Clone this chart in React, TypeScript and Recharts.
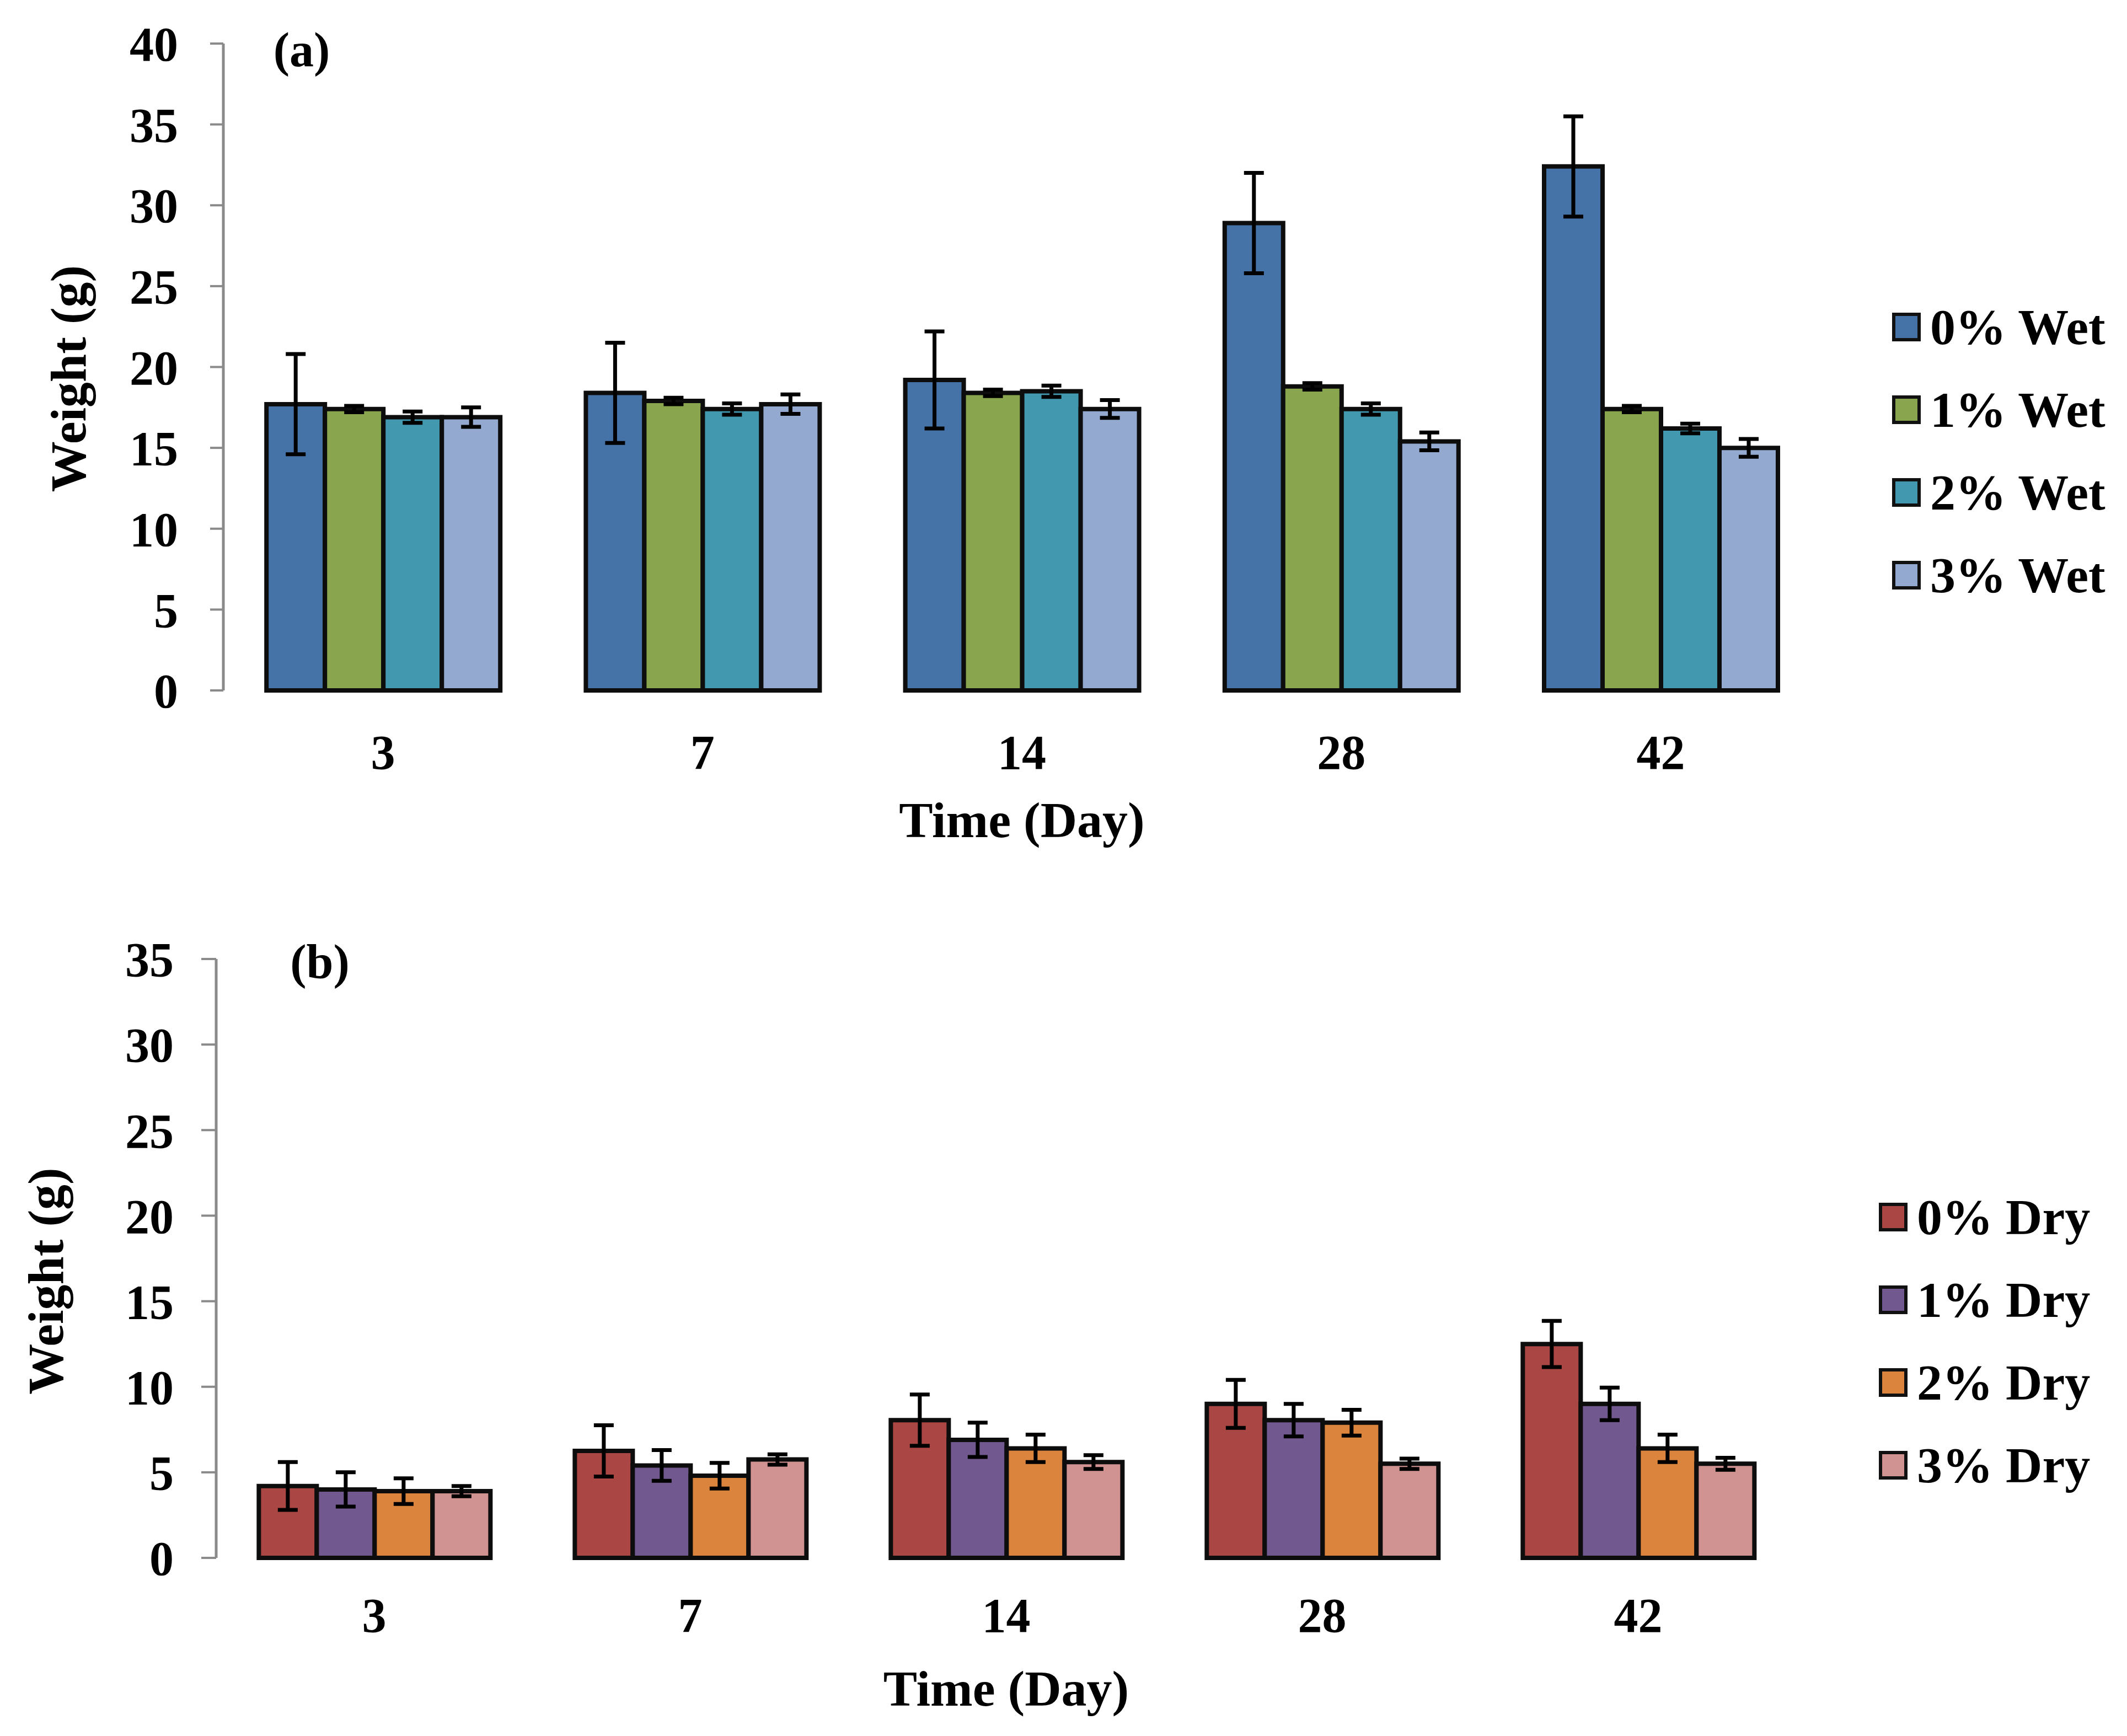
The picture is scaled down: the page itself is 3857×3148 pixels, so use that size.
import { BarChart, Bar, XAxis, YAxis, ErrorBar, Legend } from 'recharts';

const days = ['3', '7', '14', '28', '42'];

// (a) wet weight, g
const wet0 = [17.7, 18.4, 19.2, 28.9, 32.4];
const wet1 = [17.4, 17.9, 18.4, 18.8, 17.4];
const wet2 = [16.9, 17.4, 18.5, 17.4, 16.2];
const wet3 = [16.9, 17.7, 17.4, 15.4, 15.0];
const wetErr0 = [3.1, 3.1, 3.0, 3.1, 3.1];
const wetErr1 = [0.2, 0.2, 0.2, 0.2, 0.2];
const wetErr2 = [0.35, 0.35, 0.35, 0.35, 0.3];
const wetErr3 = [0.6, 0.6, 0.55, 0.55, 0.55];

// (b) dry weight, g
const dry0 = [4.2, 6.25, 8.05, 9.0, 12.5];
const dry1 = [4.0, 5.4, 6.9, 8.05, 9.0];
const dry2 = [3.9, 4.8, 6.4, 7.9, 6.4];
const dry3 = [3.9, 5.75, 5.6, 5.5, 5.5];
const dryErr0 = [1.4, 1.5, 1.5, 1.4, 1.35];
const dryErr1 = [1.0, 0.9, 1.0, 0.95, 0.95];
const dryErr2 = [0.75, 0.75, 0.8, 0.75, 0.8];
const dryErr3 = [0.3, 0.3, 0.4, 0.3, 0.35];

const wetNames = ['0% Wet', '1% Wet', '2% Wet', '3% Wet'];
const dryNames = ['0% Dry', '1% Dry', '2% Dry', '3% Dry'];
const wetColors = ['#4572A7', '#89A54E', '#4198AF', '#93A9CF'];
const dryColors = ['#AA4643', '#71588F', '#DB843D', '#D19392'];

const wetTicks = [0, 5, 10, 15, 20, 25, 30, 35, 40];
const dryTicks = [0, 5, 10, 15, 20, 25, 30, 35];
const edgeTicks = [0, 1, 2, 3, 4, 5];

const FONT = '"Liberation Serif", "Times New Roman", serif';
const GREY = '#8a8a8a';

function buildRows(series: number[][], errs: number[][]) {
  return days.map((day, i) => {
    const row: Record<string, string | number> = { day };
    series.forEach((s, k) => {
      row['v' + k] = s[i];
      row['e' + k] = errs[k][i];
    });
    return row;
  });
}

const wetRows = buildRows([wet0, wet1, wet2, wet3], [wetErr0, wetErr1, wetErr2, wetErr3]);
const dryRows = buildRows([dry0, dry1, dry2, dry3], [dryErr0, dryErr1, dryErr2, dryErr3]);

const yTitle = (cxOff: number, shift: number) => (props: any) => {
  const vb = props.viewBox;
  const cx = vb.x + cxOff;
  const cy = vb.y + vb.height / 2 + shift;
  return (
    <text
      x={cx}
      y={cy}
      transform={`rotate(-90 ${cx} ${cy})`}
      textAnchor="middle"
      dominantBaseline="central"
      fontFamily={FONT}
      fontWeight="bold"
      fontSize={92}
      fill="#000"
    >
      Weight (g)
    </text>
  );
};

const LegendBox = (props: any) => (
  <div style={{ fontFamily: FONT, fontWeight: 'bold', fontSize: 92, color: '#000' }}>
    {(props.payload || []).map((item: any) => (
      <div key={item.value} style={{ height: 150, display: 'flex', alignItems: 'center', whiteSpace: 'nowrap' }}>
        <span
          style={{
            width: 52,
            height: 52,
            boxSizing: 'border-box',
            border: '6px solid #111',
            background: item.color,
            marginRight: 17,
            display: 'inline-block',
          }}
        />
        <span>{item.value}</span>
      </div>
    ))}
  </div>
);

type PanelProps = {
  rows: Record<string, string | number>[];
  names: string[];
  colors: string[];
  yTicks: number[];
  height: number;
  margin: { top: number; right: number; bottom: number; left: number };
  yAxisWidth: number;
  yTickSize: number;
  yTickMargin: number;
  xTickSize: number;
  xTickMargin: number;
  xAxisHeight: number;
  yTitleX: number;
  yTitleShift: number;
  legendLeft: number;
  legendTop: number;
};

const tickStyle = { fontFamily: FONT, fontWeight: 'bold' as const, fontSize: 88, fill: '#000' };

function Panel(p: PanelProps) {
  const yMax = p.yTicks[p.yTicks.length - 1];
  return (
    <BarChart
      width={3857}
      height={p.height}
      data={p.rows}
      margin={p.margin}
      barCategoryGap="13.5%"
      barGap={0}
    >
      <XAxis
        xAxisId="edge"
        type="number"
        domain={[0, 5]}
        ticks={edgeTicks}
        allowDataOverflow
        height={0}
        tick={false}
        tickSize={p.xTickSize}
        axisLine={{ stroke: GREY, strokeWidth: 5 }}
        tickLine={{ stroke: GREY, strokeWidth: 4 }}
      />
      <XAxis
        xAxisId="cat"
        dataKey="day"
        height={p.xAxisHeight}
        axisLine={false}
        tickLine={false}
        tickSize={p.xTickSize}
        tickMargin={p.xTickMargin}
        tick={tickStyle}
        label={{
          value: 'Time (Day)',
          position: 'insideBottom',
          offset: 0,
          fill: '#000',
          style: { fontFamily: FONT, fontWeight: 'bold', fontSize: 92, fill: '#000' },
        }}
      />
      <YAxis
        width={p.yAxisWidth}
        domain={[0, yMax]}
        ticks={p.yTicks}
        interval={0}
        tick={tickStyle}
        tickSize={p.yTickSize}
        tickMargin={p.yTickMargin}
        axisLine={{ stroke: GREY, strokeWidth: 5 }}
        tickLine={{ stroke: GREY, strokeWidth: 4 }}
        label={{ content: yTitle(p.yTitleX, p.yTitleShift) }}
      />
      <Legend
        layout="vertical"
        align="center"
        verticalAlign="middle"
        content={<LegendBox />}
        wrapperStyle={{ left: p.legendLeft, top: p.legendTop, width: 480, height: 'auto' }}
      />
      {p.names.map((n, k) => (
        <Bar
          key={n}
          xAxisId="cat"
          dataKey={'v' + k}
          name={n}
          fill={p.colors[k]}
          stroke="#0d0d0d"
          strokeWidth={8}
          isAnimationActive={false}
        >
          <ErrorBar dataKey={'e' + k} width={18} stroke="#000" strokeWidth={7} direction="y" isAnimationActive={false} />
        </Bar>
      ))}
    </BarChart>
  );
}

const labelStyle = {
  position: 'absolute' as const,
  transform: 'translate(-50%, -50%)',
  fontFamily: FONT,
  fontWeight: 'bold' as const,
  fontSize: 88,
  lineHeight: 1,
  color: '#000',
  whiteSpace: 'nowrap' as const,
};

export default function App() {
  return (
    <div style={{ position: 'absolute', left: 0, top: 0, width: 3857, height: 3148, background: '#fff', overflow: 'hidden' }}>
      <div style={{ position: 'absolute', left: 0, top: 0 }}>
        <Panel
          rows={wetRows}
          names={wetNames}
          colors={wetColors}
          yTicks={wetTicks}
          height={1560}
          margin={{ top: 79, right: 556, bottom: 42, left: 0 }}
          yAxisWidth={405}
          yTickSize={24}
          yTickMargin={58}
          xTickSize={29}
          xTickMargin={51}
          xAxisHeight={266}
          yTitleX={124}
          yTitleShift={21}
          legendLeft={3431}
          legendTop={518}
        />
      </div>
      <div style={{ position: 'absolute', left: 0, top: 1560 }}>
        <Panel
          rows={dryRows}
          names={dryNames}
          colors={dryColors}
          yTicks={dryTicks}
          height={1588}
          margin={{ top: 179, right: 600, bottom: 55, left: 0 }}
          yAxisWidth={392}
          yTickSize={27}
          yTickMargin={50}
          xTickSize={28}
          xTickMargin={44}
          xAxisHeight={268}
          yTitleX={83}
          yTitleShift={41}
          legendLeft={3407}
          legendTop={572}
        />
      </div>
      <div style={{ ...labelStyle, left: 547, top: 91 }}>(a)</div>
      <div style={{ ...labelStyle, left: 580, top: 1745 }}>(b)</div>
    </div>
  );
}
